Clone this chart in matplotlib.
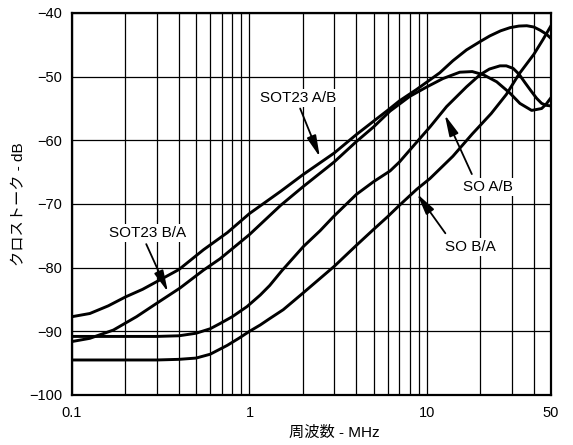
import matplotlib
matplotlib.use("Agg")
import matplotlib.pyplot as plt
from matplotlib.ticker import FixedLocator, NullFormatter

plt.rcParams['font.family'] = ['Liberation Sans', 'Noto Sans CJK JP', 'DejaVu Sans']

# Crosstalk vs frequency (MHz, dB)
sot23_ab_f = [0.1, 0.126, 0.16, 0.2, 0.25, 0.3, 0.4, 0.55, 0.75, 1.0, 1.5, 2.0, 3.0,
              4.0, 5.0, 6.0, 7.0, 8.75, 11.8, 14, 16.7, 19.9, 22.6, 26, 29.4, 33,
              36.5, 40, 43.4, 47, 50]
sot23_ab_db = [-87.7, -87.2, -86.0, -84.6, -83.4, -82.2, -80.3, -77.2, -74.5, -71.5,
               -68.0, -65.4, -62.0, -59.1, -57.0, -55.3, -53.8, -52.0, -49.4, -47.5,
               -45.8, -44.5, -43.6, -42.8, -42.3, -42.05, -42.0, -42.2, -42.7, -43.3,
               -44.0]

sot23_ba_f = [0.1, 0.126, 0.171, 0.231, 0.3, 0.406, 0.55, 0.683, 1.0, 1.5, 2.0, 3.0,
              4.0, 5.0, 6.2, 8.0, 10, 12.3, 15.3, 18, 20.8, 24.7, 29.4, 33.4, 38.9,
              44.3, 47, 50]
sot23_ba_db = [-91.6, -91.1, -89.8, -87.7, -85.6, -83.2, -80.4, -78.6, -74.8, -70.2,
               -67.3, -63.4, -60.2, -57.9, -55.4, -53.1, -51.6, -50.3, -49.3, -49.2,
               -49.7, -50.8, -52.6, -54.2, -55.3, -55.0, -54.3, -53.3]

so_ab_f = [0.1, 0.2, 0.3, 0.4, 0.5, 0.6, 0.68, 0.8, 0.97, 1.15, 1.3, 1.52, 2.01, 2.5,
           2.97, 4.0, 5.0, 6.2, 7.0, 7.85, 10.4, 12.9, 16.7, 19.9, 22.5, 25.8, 28,
           30.6, 33, 35.6, 38.5, 41.5, 44.3, 47, 50]
so_ab_db = [-90.8, -90.8, -90.8, -90.7, -90.3, -89.6, -88.8, -87.7, -86.1, -84.3,
            -82.8, -80.5, -76.7, -74.2, -72.0, -68.5, -66.5, -64.8, -63.4, -61.8,
            -57.9, -54.7, -51.6, -49.7, -48.8, -48.3, -48.3, -48.7, -49.6, -50.9,
            -52.2, -53.4, -54.2, -54.5, -54.6]

so_ba_f = [0.1, 0.2, 0.3, 0.4, 0.5, 0.6, 0.75, 0.87, 1.0, 1.15, 1.3, 1.55, 2.0, 3.0,
           4.0, 5.0, 6.0, 7.0, 8.75, 10.4, 14, 18, 23, 28, 33, 40, 45, 50]
so_ba_db = [-94.5, -94.5, -94.5, -94.4, -94.2, -93.6, -92.2, -91.1, -90.0, -89.0,
            -88.0, -86.6, -84.0, -79.8, -76.5, -74.0, -72.0, -70.2, -67.7, -66.0,
            -62.5, -59.0, -55.8, -52.8, -49.6, -46.5, -44.2, -42.0]

x_major = [0.1, 1, 10, 50]
x_major_labels = ['0.1', '1', '10', '50']
x_minor = [0.2, 0.3, 0.4, 0.5, 0.6, 0.7, 0.8, 0.9,
           2, 3, 4, 5, 6, 7, 8, 9, 20, 30, 40]
y_ticks = [-100, -90, -80, -70, -60, -50, -40]

fig = plt.figure(figsize=(5.73, 4.45), dpi=100)
ax = fig.add_axes([72 / 573, 50 / 445, 479 / 573, 382 / 445])

ax.set_xscale('log')
ax.set_xlim(0.1, 50)
ax.set_ylim(-100, -40)

ax.xaxis.set_major_locator(FixedLocator(x_major))
ax.set_xticklabels(x_major_labels)
ax.xaxis.set_minor_locator(FixedLocator(x_minor))
ax.xaxis.set_minor_formatter(NullFormatter())
ax.set_yticks(y_ticks)

ax.grid(True, which='both', axis='x', color='black', lw=0.9)
ax.grid(True, which='major', axis='y', color='black', lw=0.9)
ax.tick_params(which='both', length=0, labelsize=10.5)
ax.tick_params(axis='x', pad=8)
ax.tick_params(axis='y', pad=7)
for s in ax.spines.values():
    s.set_linewidth(1.6)

line_kw = dict(color='black', lw=2.1, solid_joinstyle='round', zorder=3)
ax.plot(sot23_ab_f, sot23_ab_db, **line_kw)
ax.plot(sot23_ba_f, sot23_ba_db, **line_kw)
ax.plot(so_ab_f, so_ab_db, **line_kw)
ax.plot(so_ba_f, so_ba_db, **line_kw)

box = dict(facecolor='white', edgecolor='none', pad=1.5)
arrow = dict(arrowstyle='-|>,head_length=0.8,head_width=0.18', color='black',
             lw=1.3, mutation_scale=16, shrinkA=0, shrinkB=0)

labels = [
    ('SOT23 A/B', (1.87, -53.4), (1.93, -55.0), (2.49, -62.6)),
    ('SOT23 B/A', (0.265, -74.6), (0.262, -76.3), (0.347, -83.8)),
    ('SO A/B', (22.1, -67.3), (17.9, -65.3), (12.6, -56.0)),
    ('SO B/A', (17.5, -76.8), (12.7, -74.6), (8.8, -68.4)),
]
for text, pos, tail, tip in labels:
    ax.annotate('', xy=tip, xytext=tail, arrowprops=arrow, zorder=4)
    ax.text(pos[0], pos[1], text, fontsize=11, ha='center', va='center',
            bbox=box, zorder=5)

ax.set_xlabel('周波数 - MHz', fontsize=11)
ax.xaxis.set_label_coords(0.547, -0.0995)
ax.xaxis.label.set_va('center')
ax.set_ylabel('クロストーク - dB', fontsize=11)
ax.yaxis.set_label_coords(-0.109, 0.5)
ax.yaxis.label.set_va('center')

fig.savefig('out.png', dpi=100)
